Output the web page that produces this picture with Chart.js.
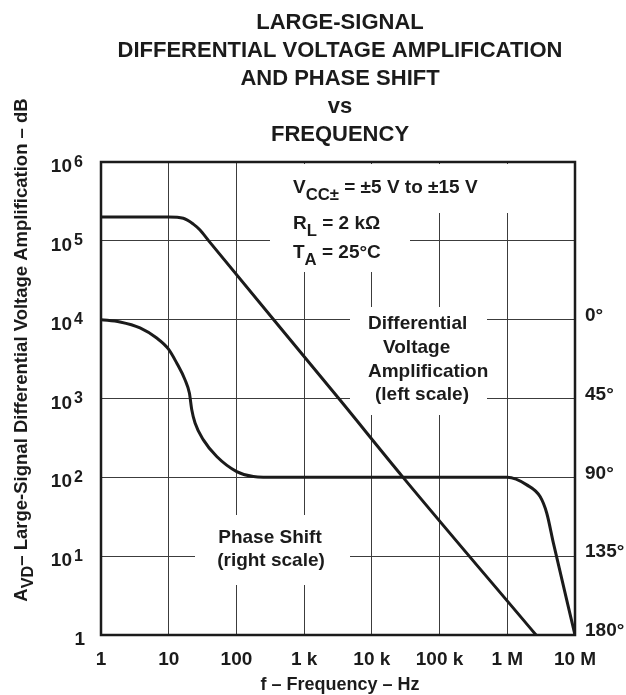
<!DOCTYPE html>
<html>
<head>
<meta charset="utf-8">
<title>Large-Signal Differential Voltage Amplification and Phase Shift vs Frequency</title>
<script src="https://cdn.jsdelivr.net/npm/chart.js@4.4.1/dist/chart.umd.min.js"></script>
<style>
  html, body { margin: 0; padding: 0; background: #fff; }
  #caixa { width: 626px; height: 695px; position: relative; }
</style>
</head>
<body>
<div id="caixa"><canvas id="grafico"></canvas></div>
<script>
// ── Dados ──
const freqGanho    = [1, 10, 16.4, 23.1, 29, 39, 3390, 28900, 2660000];
const valoresGanho = [2e5, 2e5, 1.93e5, 1.63e5, 1.37e5, 1e5, 955, 100, 1];

const freqFase    = [1, 1.91, 3.77, 6.65, 9.87, 13.1, 17.4, 20.2, 21.9, 24.5, 32.5, 51.2, 101, 178, 400, 1e6, 1.94e6, 3.05e6, 3.83e6, 4.8e6, 1e7];
const valoresFase = [0, 1.3, 4.7, 10.5, 16.7, 24.7, 34.3, 41.9, 51.4, 59.0, 68.6, 78.1, 86.7, 89.5, 90, 90, 94.3, 101, 110.5, 127.6, 180];

const ticksFreq   = [1, 10, 100, 1e3, 1e4, 1e5, 1e6, 1e7];
const rotulosFreq = ["1", "10", "100", "1 k", "10 k", "100 k", "1 M", "10 M"];
const expoentesGanho = [0, 1, 2, 3, 4, 5, 6];
const ticksFase   = [0, 45, 90, 135, 180];

const titulo = ["LARGE-SIGNAL", "DIFFERENTIAL VOLTAGE AMPLIFICATION", "AND PHASE SHIFT", "vs", "FREQUENCY"];

const FONTE = '"Liberation Sans", Arial, Helvetica, sans-serif';
const PRETO = "#1b1b1b";

function fonte(tam) { return `bold ${tam}px ${FONTE}`; }

// desenha texto com partes em subscrito / sobrescrito
function textoRico(ctx, partes, x, y, tam, alinhar) {
  let largura = 0;
  const medidas = partes.map(([t, modo]) => {
    const s = modo ? tam * 0.88 : tam;
    ctx.font = fonte(s);
    const w = ctx.measureText(t).width;
    largura += w;
    return { t, modo, s, w };
  });
  let cx = alinhar === "center" ? x - largura / 2 : (alinhar === "right" ? x - largura : x);
  ctx.textAlign = "left";
  ctx.textBaseline = "alphabetic";
  medidas.forEach(m => {
    ctx.font = fonte(m.s);
    const dy = m.modo === "sub" ? tam * 0.35 : (m.modo === "sup" ? -tam * 0.45 : 0);
    ctx.fillText(m.t, cx, y + dy);
    cx += m.w;
  });
}

// caixas brancas atrás das anotações (cortam a grade)
const caixasBrancas = [
  [290, 164, 222, 49],
  [270, 213, 140, 59],
  [350, 307, 137, 108],
  [195, 515, 155, 70],
];

const pluginAnotacoes = {
  id: "anotacoes",
  beforeDatasetsDraw(chart) {
    const ctx = chart.ctx;
    ctx.save();
    ctx.fillStyle = "#fff";
    caixasBrancas.forEach(([x, y, w, h]) => ctx.fillRect(x, y, w, h));

    ctx.fillStyle = PRETO;
    textoRico(ctx, [["V", ""], ["CC±", "sub"], [" = ±5 V to ±15 V", ""]], 293, 193, 19, "left");
    textoRico(ctx, [["R", ""], ["L", "sub"], [" = 2 kΩ", ""]], 293, 229, 19, "left");
    textoRico(ctx, [["T", ""], ["A", "sub"], [" = 25°C", ""]], 293, 258, 19, "left");

    textoRico(ctx, [["Differential", ""]], 368, 329, 19, "left");
    textoRico(ctx, [["Voltage", ""]], 383, 353, 19, "left");
    textoRico(ctx, [["Amplification", ""]], 368, 377, 19, "left");
    textoRico(ctx, [["(left scale)", ""]], 375, 400, 19, "left");

    textoRico(ctx, [["Phase Shift", ""]], 270, 543, 19, "center");
    textoRico(ctx, [["(right scale)", ""]], 271, 566, 19, "center");
    ctx.restore();
  },
  afterDatasetsDraw(chart) {
    const ctx = chart.ctx;
    const a = chart.chartArea;
    ctx.save();
    // moldura
    ctx.strokeStyle = PRETO;
    ctx.lineWidth = 2.5;
    ctx.strokeRect(a.left, a.top, a.right - a.left, a.bottom - a.top);

    // título
    ctx.fillStyle = PRETO;
    const yTitulo = [28.6, 56.9, 84.9, 112.7, 140.9];
    titulo.forEach((linha, i) => textoRico(ctx, [[linha, ""]], 340, yTitulo[i], 22, "center"));

    // rótulos do eixo esquerdo (10^n)
    const escY = chart.scales.y;
    expoentesGanho.forEach(e => {
      const py = escY.getPixelForValue(Math.pow(10, e));
      ctx.font = fonte(19);
      ctx.textAlign = "right";
      ctx.textBaseline = "alphabetic";
      if (e === 0) {
        ctx.fillText("1", 85, py + 10);
      } else {
        ctx.fillText("10", 72, py + 10);
        ctx.font = fonte(16);
        ctx.textAlign = "left";
        ctx.fillText(String(e), 74, py + 4.5);
      }
    });

    // título do eixo y (girado)
    ctx.translate(27, 350);
    ctx.rotate(-Math.PI / 2);
    textoRico(ctx, [["A", ""], ["VD", "sub"], ["– Large-Signal Differential Voltage Amplification – dB", ""]], 0, 0, 18.5, "center");
    ctx.restore();

    // título do eixo x
    ctx.save();
    ctx.fillStyle = PRETO;
    textoRico(ctx, [["f – Frequency – Hz", ""]], 340, 690, 18, "center");
    ctx.restore();
  }
};

// ================================================================
// GRÁFICO
// ================================================================

const pontosGanho = freqGanho.map((f, i) => ({ x: f, y: valoresGanho[i] }));
const pontosFase  = freqFase.map((f, i) => ({ x: f, y: valoresFase[i] }));

new Chart(document.getElementById("grafico"), {
  type: "line",
  data: {
    datasets: [
      {
        label: "Differential Voltage Amplification",
        data: pontosGanho,
        yAxisID: "y",
        borderColor: PRETO,
        borderWidth: 3,
        pointRadius: 0,
        cubicInterpolationMode: "monotone",
        fill: false,
      },
      {
        label: "Phase Shift",
        data: pontosFase,
        yAxisID: "y1",
        borderColor: PRETO,
        borderWidth: 3,
        pointRadius: 0,
        cubicInterpolationMode: "monotone",
        fill: false,
      }
    ]
  },
  options: {
    responsive: true,
    maintainAspectRatio: false,
    animation: false,
    layout: { padding: { top: 162, left: 0, right: 0, bottom: 0 } },
    plugins: {
      legend: { display: false },
      tooltip: { enabled: false },
      title: { display: false },
    },
    scales: {
      x: {
        type: "logarithmic",
        min: 1,
        max: 1e7,
        afterBuildTicks: s => { s.ticks = ticksFreq.map(v => ({ value: v })); },
        afterFit: s => { s.height = 60; },
        grid: { color: "#3c3c3c", lineWidth: 1, drawTicks: false },
        border: { display: false },
        ticks: {
          color: PRETO,
          font: { family: FONTE, size: 19, weight: "bold" },
          padding: 13,
          maxRotation: 0,
          autoSkip: false,
          callback: (v, i) => rotulosFreq[i],
        },
      },
      y: {
        type: "logarithmic",
        position: "left",
        min: 1,
        max: 1e6,
        afterBuildTicks: s => { s.ticks = expoentesGanho.map(e => ({ value: Math.pow(10, e) })); },
        afterFit: s => { s.width = 101; },
        grid: { color: "#3c3c3c", lineWidth: 1, drawTicks: false },
        border: { display: false },
        ticks: { display: false },
      },
      y1: {
        type: "linear",
        position: "right",
        min: -90,
        max: 180,
        reverse: true,
        afterBuildTicks: s => { s.ticks = ticksFase.map(v => ({ value: v })); },
        afterFit: s => { s.width = 51; },
        grid: { display: false, drawTicks: false },
        border: { display: false },
        ticks: {
          color: PRETO,
          font: { family: FONTE, size: 19, weight: "bold" },
          padding: 10,
          labelOffset: -4,
          callback: v => v + "°",
        },
      },
    }
  },
  plugins: [pluginAnotacoes]
});
</script>
</body>
</html>
